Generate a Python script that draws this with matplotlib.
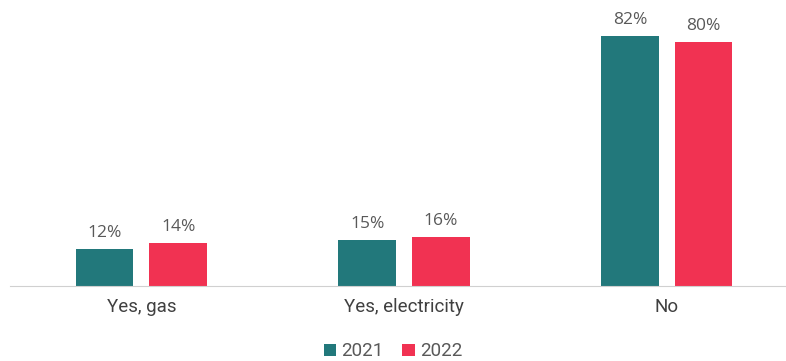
import matplotlib.pyplot as plt
import numpy as np

plt.rcParams['font.family'] = ['Roboto', 'DejaVu Sans']

categories = ['Yes, gas', 'Yes, electricity', 'No']
vals_2021 = [12, 15, 82]
vals_2022 = [14, 16, 80]
series_names = ['2021', '2022']
colors = ['#22787B', '#F13252']

fig = plt.figure(figsize=(7.86, 3.61), dpi=100)
ax = fig.add_axes([10/786, 75/361, 775/786, 274/361])

x = np.arange(len(categories))
w = 0.22
off = 0.14
b1 = ax.bar(x - off, vals_2021, w, color=colors[0], label=series_names[0])
b2 = ax.bar(x + off, vals_2022, w, color=colors[1], label=series_names[1])

for bars in (b1, b2):
    for b in bars:
        ax.text(b.get_x() + b.get_width()/2, b.get_height() + 2.8, '%d%%' % b.get_height(),
                ha='center', va='bottom', fontsize=12.5, color='#595959',
                family=['Open Sans', 'DejaVu Sans'])

ax.set_xlim(-0.5, 2.45)
ax.set_ylim(0, 90)
ax.set_xticks(x)
ax.set_xticklabels(categories, fontsize=13.5, color='#404040')
ax.tick_params(axis='x', length=0, pad=9)
ax.set_yticks([])
for s in ['top', 'right', 'left']:
    ax.spines[s].set_visible(False)
ax.spines['bottom'].set_color('#D0D0D0')

fig.legend(loc='lower center', bbox_to_anchor=(0.5, -0.045), ncol=2, frameon=False,
           fontsize=13.5, handlelength=0.65, handleheight=0.65, handletextpad=0.3,
           columnspacing=1.0, labelcolor='#595959')

fig.savefig('out.png', dpi=100)
